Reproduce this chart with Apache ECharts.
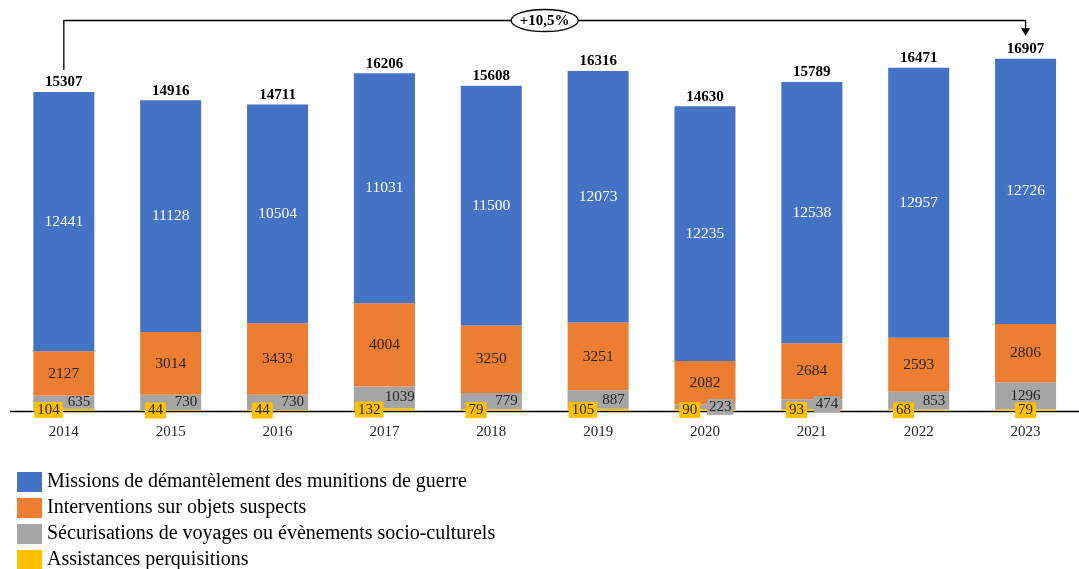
<!DOCTYPE html>
<html>
<head>
<meta charset="utf-8">
<script src="https://cdn.jsdelivr.net/npm/echarts@6/dist/echarts.min.js"></script>
<style>
  html, body { margin: 0; padding: 0; background: #fff; }
  #chart { width: 1079px; height: 569px; }
</style>
</head>
<body>
<div id="chart"></div>
<script>
var years = ['2014', '2015', '2016', '2017', '2018', '2019', '2020', '2021', '2022', '2023']
var assistances = [104, 44, 44, 132, 79, 105, 90, 93, 68, 79]
var securisations = [635, 730, 730, 1039, 779, 887, 223, 474, 853, 1296]
var interventions = [2127, 3014, 3433, 4004, 3250, 3251, 2082, 2684, 2593, 2806]
var missions = [12441, 11128, 10504, 11031, 11500, 12073, 12235, 12538, 12957, 12726]
var totals = [15307, 14916, 14711, 16206, 15608, 16316, 14630, 15789, 16471, 16907]
var growthText = '+10,5%'

var FONT = 'Liberation Serif'
var TXT = '#262626'

var chart = echarts.init(document.getElementById('chart'))

// gray labels : small segments get a gray box, last one is centred
var grayData = securisations.map(function (v, i) {
  var item = { value: v }
  if (i === 6 || i === 7) {
    item.label = { backgroundColor: '#a5a5a5', padding: [1, 2, 0, 2] }
  }
  if (i === 9) {
    item.label = { position: 'inside', align: 'center' }
  }
  return item
})
var yellowData = assistances.map(function (v, i) {
  var item = { value: v }
  if (i === 9) item.label = { position: 'inside', align: 'center' }
  return item
})

var option = {
  animation: false,
  grid: { left: 10.4, right: -14.2, top: 15.1, bottom: 158 },
  xAxis: {
    type: 'category',
    data: years,
    axisLine: { lineStyle: { color: '#000', width: 1.3 } },
    axisTick: { show: false },
    axisLabel: { color: TXT, fontFamily: FONT, fontSize: 15, margin: 14 }
  },
  yAxis: {
    type: 'value',
    min: 0,
    max: 19000,
    show: false,
    splitLine: { show: false }
  },
  // horizontal legend squeezed narrow so every item goes on its own row
  legend: {
    orient: 'horizontal',
    left: 17,
    top: 472,
    width: 60,
    padding: 0,
    itemWidth: 25,
    itemHeight: 20,
    itemGap: 6,
    icon: 'rect',
    data: [
      'Missions de démantèlement des munitions de guerre',
      'Interventions sur objets suspects',
      'Sécurisations de voyages ou évènements socio-culturels',
      'Assistances perquisitions'
    ],
    textStyle: { color: '#000', fontFamily: FONT, fontSize: 20, lineHeight: 20 }
  },
  series: [
    {
      name: 'Assistances perquisitions',
      type: 'bar',
      stack: 'a',
      barWidth: 61,
      itemStyle: { color: '#ffc000' },
      label: {
        show: true,
        position: ['25%', '50%'],
        align: 'center',
        verticalAlign: 'middle',
        color: TXT,
        fontFamily: FONT,
        fontSize: 15,
        backgroundColor: '#ffc000',
        padding: [1, 3, 0, 3]
      },
      data: yellowData
    },
    {
      name: 'Sécurisations de voyages ou évènements socio-culturels',
      type: 'bar',
      stack: 'a',
      itemStyle: { color: '#a5a5a5' },
      label: {
        show: true,
        position: ['75%', '50%'],
        align: 'center',
        verticalAlign: 'middle',
        color: TXT,
        fontFamily: FONT,
        fontSize: 15
      },
      data: grayData
    },
    {
      name: 'Interventions sur objets suspects',
      type: 'bar',
      stack: 'a',
      itemStyle: { color: '#ed7d31' },
      label: { show: true, position: 'inside', color: TXT, fontFamily: FONT, fontSize: 15.5 },
      data: interventions
    },
    {
      name: 'Missions de démantèlement des munitions de guerre',
      type: 'bar',
      stack: 'a',
      itemStyle: { color: '#4472c4' },
      label: { show: true, position: 'inside', color: '#fff', fontFamily: FONT, fontSize: 15.5 },
      data: missions
    },
    {
      // invisible bar on top of the stack, only carries the total label
      name: 'Total',
      type: 'bar',
      stack: 'a',
      itemStyle: { color: 'transparent' },
      label: {
        show: true,
        position: 'top',
        distance: 2,
        color: '#000',
        fontFamily: FONT,
        fontSize: 15,
        fontWeight: 'bold',
        formatter: function (p) { return totals[p.dataIndex] }
      },
      data: years.map(function () { return 0 })
    }
  ]
}

chart.setOption(option)

// bracket 2014 -> 2023 with the growth bubble
var p0 = chart.convertToPixel({ gridIndex: 0 }, [0, totals[0]])
var p1 = chart.convertToPixel({ gridIndex: 0 }, [years.length - 1, totals[totals.length - 1]])
var yTop = 20.5
var tip = p1[1] - 23
var midX = (p0[0] + p1[0]) / 2

chart.setOption({
  graphic: [
    {
      type: 'polyline',
      shape: { points: [[p0[0], p0[1] - 22], [p0[0], yTop], [p1[0], yTop], [p1[0], tip - 6]] },
      style: { stroke: '#000', lineWidth: 1.3, fill: null }
    },
    {
      type: 'polygon',
      shape: { points: [[p1[0] - 4.5, tip - 7.5], [p1[0] + 4.5, tip - 7.5], [p1[0], tip]] },
      style: { fill: '#000' }
    },
    {
      type: 'ellipse',
      shape: { cx: midX, cy: yTop, rx: 33.5, ry: 11 },
      style: { fill: '#fff', stroke: '#000', lineWidth: 1.3 }
    },
    {
      type: 'text',
      x: midX,
      y: yTop + 0.5,
      style: {
        text: growthText,
        align: 'center',
        verticalAlign: 'middle',
        fill: '#000',
        font: 'bold 15px "Liberation Serif"'
      }
    }
  ]
})
</script>
</body>
</html>
